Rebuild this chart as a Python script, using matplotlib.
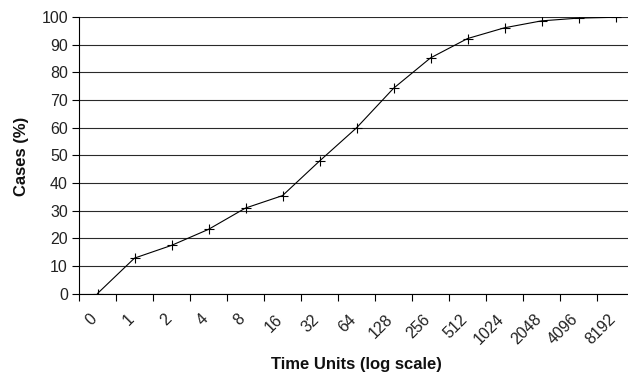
import matplotlib
matplotlib.use("Agg")
import matplotlib.pyplot as plt
import matplotlib.transforms as mtransforms
import numpy as np

# time categories (log scale) and cumulative share of cases
time_labels = ["0", "1", "2", "4", "8", "16", "32", "64", "128", "256",
               "512", "1024", "2048", "4096", "8192"]
cases_pct = [0, 12.8, 17.4, 23.2, 30.9, 35.4, 47.9, 59.9, 74.2, 85.2,
             92.2, 96.1, 98.6, 99.6, 99.9]
y_ticks = list(range(0, 101, 10))

plt.rcParams["font.family"] = ["Liberation Sans", "DejaVu Sans"]

fig = plt.figure(figsize=(6.28, 3.74), dpi=100)
ax = fig.add_axes([79 / 628, 1 - 293.5 / 374, (628 - 79) / 628, (293.5 - 17) / 374])

x = np.arange(len(time_labels))
ax.plot(x, cases_pct, color="black", lw=0.8, marker="+", ms=7, mew=0.8)

ax.set_xlim(-0.5, len(time_labels) - 0.5 - 6 / 37)
ax.set_ylim(0, 100)
ax.set_yticks(y_ticks)
ax.yaxis.grid(True, color="#2a2a2a", lw=0.8)
ax.set_axisbelow(True)

# labels centred on categories, tick marks on category boundaries
ax.set_xticks(x)
ax.set_xticklabels(time_labels, rotation=45, ha="right", va="top",
                   rotation_mode="anchor")
ax.set_xticks(np.arange(-0.5, len(time_labels) - 0.5, 1), minor=True)
ax.tick_params(axis="x", which="major", length=0, pad=13, labelsize=11.5,
               labelcolor="#222222")
ax.tick_params(axis="x", which="minor", length=5, width=0.8, color="black")
ax.tick_params(axis="y", length=5, width=0.8, labelsize=11.5, pad=3,
               color="black", labelcolor="#222222")
shift = mtransforms.ScaledTranslation(-8 / 100, 0, fig.dpi_scale_trans)
for lbl in ax.get_xticklabels():
    lbl.set_transform(lbl.get_transform() + shift)

for s in ["top", "right"]:
    ax.spines[s].set_visible(False)
for s in ["left", "bottom"]:
    ax.spines[s].set_linewidth(0.8)
    ax.spines[s].set_color("black")

fig.text(356 / 628, 1 - 365 / 374, "Time Units (log scale)", ha="center",
         va="center", fontsize=12, fontweight="bold", color="#111111")
fig.text(22 / 628, 1 - 156 / 374, "Cases (%)", ha="center", va="center",
         rotation=90, fontsize=12, fontweight="bold", color="#111111")

fig.savefig("out.png", dpi=100)
